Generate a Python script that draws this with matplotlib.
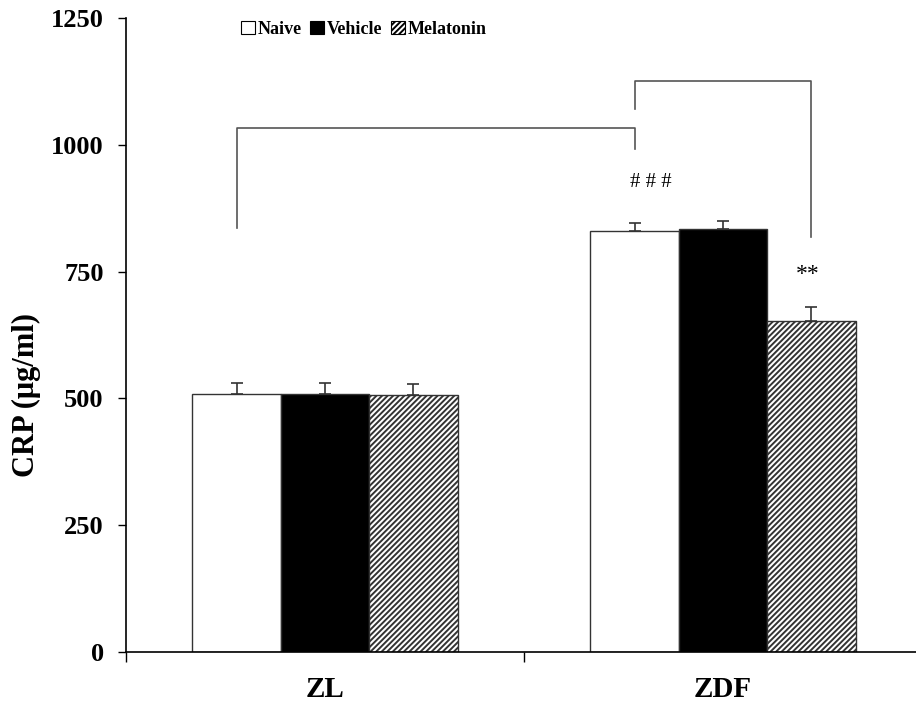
"""CRP levels in ZL and ZDF rats: naive / vehicle / melatonin."""

import numpy as np
import matplotlib
matplotlib.use("Agg")
import matplotlib.pyplot as plt
import matplotlib.patches as mpatches

# --- data ----------------------------------------------------------------------

groups     = ["ZL", "ZDF"]
treatments = ["Naive", "Vehicle", "Melatonin"]
crp_mean   = {
    "Naive":     [509, 830],
    "Vehicle":   [508, 834],
    "Melatonin": [507, 652],
}
crp_err    = {
    "Naive":     [21, 16],
    "Vehicle":   [22, 16],
    "Melatonin": [22, 29],
}

# --- style ---------------------------------------------------------------------

plt.rcParams["font.family"] = ["Liberation Serif", "DejaVu Serif"]
plt.rcParams["font.weight"] = "bold"
plt.rcParams["hatch.linewidth"] = 1.4

faces   = {"Naive": "white", "Vehicle": "black", "Melatonin": "white"}
hatches = {"Naive": None, "Vehicle": None, "Melatonin": "//////"}

W, H = 916, 714
fig = plt.figure(figsize=(W / 100, H / 100), dpi=100)
ax = fig.add_axes([126 / W, 1 - 652 / H, (W - 126) / W, (652 - 18) / H])

x = np.arange(len(groups))
width = 0.222
offsets = [-width, 0.0, width]

for t, off in zip(treatments, offsets):
    ax.bar(x + off, crp_mean[t], width=width, color=faces[t], hatch=hatches[t],
           edgecolor="#333333", linewidth=1.0, zorder=2)
    ax.errorbar(x + off, crp_mean[t], yerr=[np.zeros(len(groups)), crp_err[t]],
                fmt="none", ecolor="#333333", elinewidth=1.2, capsize=4,
                capthick=1.2, zorder=3)

# significance brackets
line_kw = dict(color="#555555", linewidth=1.2, zorder=1)
ax.plot([-width, -width, 1 - width, 1 - width], [836, 1033, 1033, 992], **line_kw)
ax.plot([1 - width, 1 - width, 1 + width, 1 + width], [1071, 1126, 1126, 818], **line_kw)

ax.text(1 - width + 0.04, 925, "# # #", ha="center", va="center",
        fontsize=15, fontweight="normal")
ax.text(1 + width - 0.01, 745, "**", ha="center", va="center",
        fontsize=17, fontweight="normal")

# --- axes ----------------------------------------------------------------------

ax.set_xlim(-0.5, 1.485)
ax.set_ylim(0, 1250)
ax.set_yticks([0, 250, 500, 750, 1000, 1250])
ax.tick_params(axis="y", direction="out", length=6, width=1.0, pad=10,
               labelsize=19)

ax.set_xticks([-0.5, 0.5])
ax.set_xticklabels([])
ax.tick_params(axis="x", which="major", direction="out", length=7, width=1.0)
ax.set_xticks(x, minor=True)
ax.set_xticklabels(groups, minor=True, fontsize=21)
ax.tick_params(axis="x", which="minor", length=0, pad=17)

for side in ["top", "right"]:
    ax.spines[side].set_visible(False)
for side in ["left", "bottom"]:
    ax.spines[side].set_linewidth(1.2)

ax.set_ylabel("CRP (μg/ml)", fontsize=22, fontweight="bold")
ax.yaxis.set_label_coords(-0.108, 0.405)

handles = [
    mpatches.Patch(facecolor=faces[t], edgecolor="black", hatch=hatches[t],
                   linewidth=0.8, label=t)
    for t in treatments
]
fig.legend(handles=handles, loc="center left",
           bbox_to_anchor=(232 / W, 1 - 29 / H), ncol=3, frameon=False,
           fontsize=13, handlelength=0.75, handleheight=0.75,
           handletextpad=0.15, columnspacing=0.5, borderpad=0)

fig.savefig("out.png", dpi=100)
